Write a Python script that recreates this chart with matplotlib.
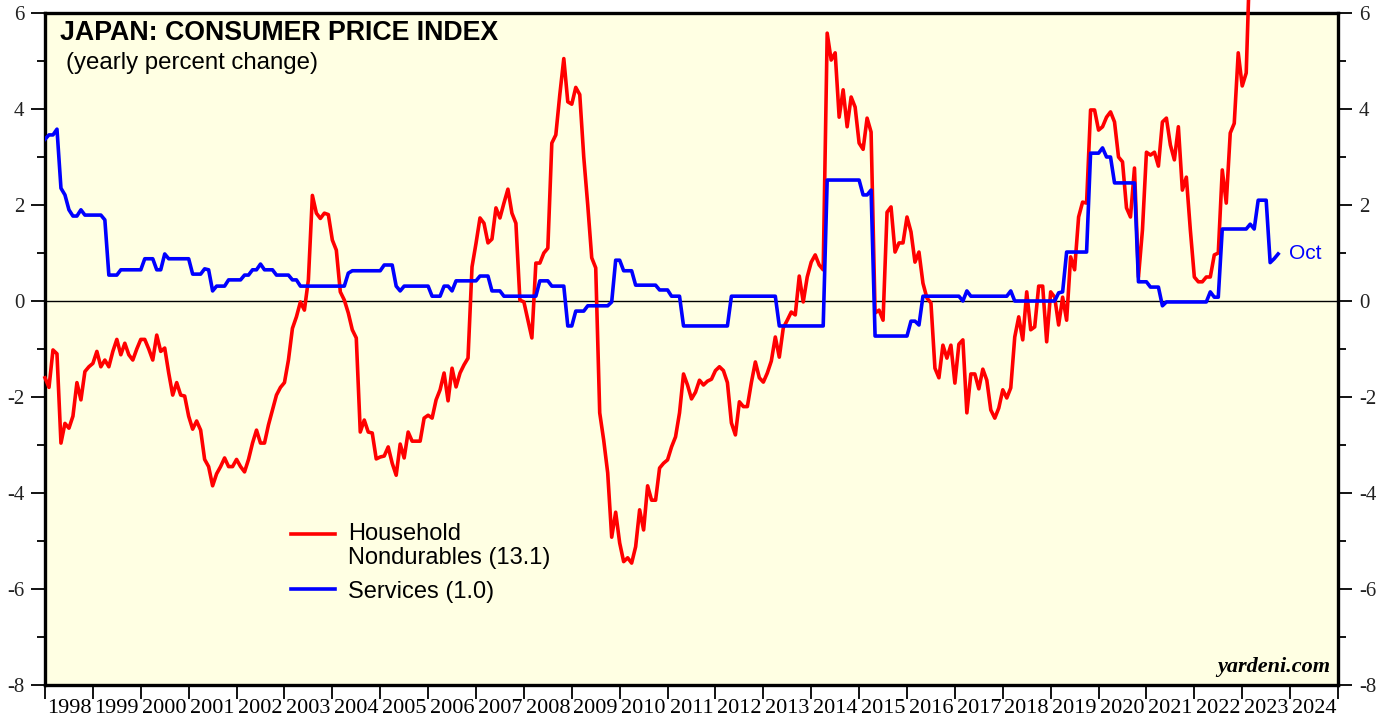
import matplotlib
matplotlib.use("Agg")
import matplotlib.pyplot as plt
import numpy as np
from matplotlib.legend_handler import HandlerLine2D

# monthly values, Jan 1998 .. Oct 2023 (yearly percent change)
household_nondurables = [
    -1.6, -1.8, -1.02, -1.1, -2.96, -2.55, -2.65, -2.4, -1.7, -2.06, -1.47, -1.37,   # 1998
    -1.3, -1.05, -1.37, -1.23, -1.37, -1.05, -0.8, -1.12, -0.88, -1.12, -1.23, -1.0,  # 1999
    -0.8, -0.8, -1.0, -1.23, -0.71, -1.05, -0.98, -1.5, -1.96, -1.7, -1.96, -1.98,    # 2000
    -2.4, -2.67, -2.5, -2.69, -3.3, -3.45, -3.85, -3.6, -3.45, -3.27, -3.45, -3.45,   # 2001
    -3.3, -3.45, -3.56, -3.3, -2.96, -2.69, -2.96, -2.96, -2.58, -2.27, -1.96, -1.8,  # 2002
    -1.7, -1.23, -0.57, -0.33, -0.02, -0.19, 0.44, 2.2, 1.83, 1.72, 1.83, 1.8,        # 2003
    1.27, 1.06, 0.19, 0.02, -0.25, -0.6, -0.77, -2.73, -2.48, -2.73, -2.75, -3.29,    # 2004
    -3.25, -3.23, -3.04, -3.38, -3.63, -2.98, -3.27, -2.73, -2.92, -2.92, -2.92, -2.44,  # 2005
    -2.38, -2.44, -2.06, -1.85, -1.5, -2.08, -1.4, -1.79, -1.5, -1.33, -1.19, 0.71,   # 2006
    1.2, 1.73, 1.62, 1.21, 1.29, 1.94, 1.73, 2.04, 2.33, 1.83, 1.62, 0.02,            # 2007
    -0.02, -0.4, -0.77, 0.79, 0.79, 1.0, 1.1, 3.29, 3.46, 4.3, 5.05, 4.15,            # 2008
    4.1, 4.45, 4.3, 3.0, 2.0, 0.9, 0.69, -2.33, -2.9, -3.58, -4.92, -4.4,             # 2009
    -5.04, -5.43, -5.35, -5.46, -5.12, -4.35, -4.77, -3.85, -4.15, -4.15, -3.48, -3.38,  # 2010
    -3.31, -3.04, -2.83, -2.33, -1.52, -1.75, -2.04, -1.9, -1.65, -1.75, -1.67, -1.63,   # 2011
    -1.45, -1.37, -1.45, -1.7, -2.54, -2.79, -2.1, -2.2, -2.2, -1.7, -1.27, -1.6,     # 2012
    -1.69, -1.5, -1.25, -0.75, -1.17, -0.56, -0.4, -0.23, -0.29, 0.52, -0.02, 0.5,    # 2013
    0.81, 0.96, 0.75, 0.65, 5.58, 5.02, 5.17, 3.83, 4.4, 3.63, 4.25, 4.04,            # 2014
    3.29, 3.16, 3.81, 3.52, -0.25, -0.19, -0.4, 1.85, 1.96, 1.02, 1.21, 1.21,         # 2015
    1.75, 1.44, 0.81, 1.02, 0.37, 0.06, -0.04, -1.4, -1.6, -0.92, -1.19, -0.92,       # 2016
    -1.71, -0.9, -0.81, -2.33, -1.52, -1.52, -1.83, -1.42, -1.65, -2.27, -2.44, -2.23,   # 2017
    -1.85, -2.02, -1.81, -0.75, -0.33, -0.81, 0.19, -0.6, -0.54, 0.31, 0.31, -0.85,   # 2018
    0.19, 0.08, -0.5, 0.08, -0.4, 0.92, 0.65, 1.75, 2.06, 2.04, 3.98, 3.98,           # 2019
    3.56, 3.63, 3.83, 3.94, 3.73, 3.0, 2.9, 1.94, 1.75, 2.77, 0.5, 1.48,              # 2020
    3.1, 3.04, 3.1, 2.81, 3.73, 3.81, 3.25, 2.94, 3.63, 2.31, 2.58, 1.48,             # 2021
    0.5, 0.4, 0.4, 0.5, 0.5, 0.96, 1.0, 2.73, 2.04, 3.5, 3.7, 5.17,                   # 2022
    4.48, 4.75, 7.4, 8.6, 9.9, 11.0, 12.0, 12.9, 13.4, 13.1,                          # 2023
]

services = [
    3.37, 3.46, 3.46, 3.58, 2.35, 2.21, 1.9, 1.77, 1.77, 1.9, 1.79, 1.79,             # 1998
    1.79, 1.79, 1.79, 1.69, 0.54, 0.54, 0.54, 0.65, 0.65, 0.65, 0.65, 0.65,           # 1999
    0.65, 0.88, 0.88, 0.88, 0.65, 0.65, 0.98, 0.88, 0.88, 0.88, 0.88, 0.88,           # 2000
    0.88, 0.56, 0.56, 0.56, 0.67, 0.65, 0.21, 0.31, 0.31, 0.31, 0.44, 0.44,           # 2001
    0.44, 0.44, 0.54, 0.54, 0.65, 0.65, 0.77, 0.65, 0.65, 0.65, 0.54, 0.54,           # 2002
    0.54, 0.54, 0.44, 0.44, 0.31, 0.31, 0.31, 0.31, 0.31, 0.31, 0.31, 0.31,           # 2003
    0.31, 0.31, 0.31, 0.31, 0.58, 0.63, 0.63, 0.63, 0.63, 0.63, 0.63, 0.63,           # 2004
    0.63, 0.75, 0.75, 0.75, 0.31, 0.21, 0.31, 0.31, 0.31, 0.31, 0.31, 0.31,           # 2005
    0.31, 0.10, 0.10, 0.10, 0.31, 0.31, 0.21, 0.42, 0.42, 0.42, 0.42, 0.42,           # 2006
    0.42, 0.52, 0.52, 0.52, 0.21, 0.21, 0.21, 0.10, 0.10, 0.10, 0.10, 0.10,           # 2007
    0.10, 0.10, 0.10, 0.10, 0.42, 0.42, 0.42, 0.31, 0.31, 0.31, 0.31, -0.52,          # 2008
    -0.52, -0.21, -0.21, -0.21, -0.1, -0.1, -0.1, -0.1, -0.1, -0.1, -0.02, 0.85,      # 2009
    0.85, 0.63, 0.63, 0.63, 0.33, 0.33, 0.33, 0.33, 0.33, 0.33, 0.23, 0.23,           # 2010
    0.23, 0.10, 0.10, 0.10, -0.52, -0.52, -0.52, -0.52, -0.52, -0.52, -0.52, -0.52,   # 2011
    -0.52, -0.52, -0.52, -0.52, 0.10, 0.10, 0.10, 0.10, 0.10, 0.10, 0.10, 0.10,       # 2012
    0.10, 0.10, 0.10, 0.10, -0.52, -0.52, -0.52, -0.52, -0.52, -0.52, -0.52, -0.52,   # 2013
    -0.52, -0.52, -0.52, -0.52, 2.52, 2.52, 2.52, 2.52, 2.52, 2.52, 2.52, 2.52,       # 2014
    2.52, 2.21, 2.21, 2.31, -0.73, -0.73, -0.73, -0.73, -0.73, -0.73, -0.73, -0.73,   # 2015
    -0.73, -0.42, -0.42, -0.5, 0.1, 0.1, 0.1, 0.1, 0.1, 0.1, 0.1, 0.1,                # 2016
    0.1, 0.1, 0.0, 0.21, 0.1, 0.1, 0.1, 0.1, 0.1, 0.1, 0.1, 0.1,                      # 2017
    0.1, 0.1, 0.21, 0.0, 0.0, 0.0, 0.0, 0.0, 0.0, 0.0, 0.0, 0.0,                      # 2018
    0.0, 0.0, 0.17, 0.19, 1.02, 1.02, 1.02, 1.02, 1.02, 1.02, 3.08, 3.08,             # 2019
    3.08, 3.19, 3.0, 3.0, 2.46, 2.46, 2.46, 2.46, 2.46, 2.46, 0.4, 0.4,               # 2020
    0.4, 0.29, 0.29, 0.29, -0.1, -0.02, -0.02, -0.02, -0.02, -0.02, -0.02, -0.02,     # 2021
    -0.02, -0.02, -0.02, -0.02, 0.19, 0.08, 0.08, 1.5, 1.5, 1.5, 1.5, 1.5,            # 2022
    1.5, 1.5, 1.6, 1.5, 2.1, 2.1, 2.1, 0.8, 0.88, 0.98,                               # 2023
]

years = list(range(1998, 2025))
labels = ["Household\nNondurables (13.1)", "Services (1.0)"]

t = 1998 + np.arange(len(services)) / 12.0

sans = "Liberation Sans"
serif = "Liberation Serif"


class FirstLineHandler(HandlerLine2D):
    """Legend key placed level with the first line of a two-line label."""

    def __init__(self, shift, **kw):
        super().__init__(**kw)
        self.shift = shift

    def create_artists(self, legend, orig_handle, xdescent, ydescent, width,
                       height, fontsize, trans):
        arts = super().create_artists(legend, orig_handle, xdescent, ydescent,
                                      width, height, fontsize, trans)
        for a in arts:
            a.set_ydata(np.asarray(a.get_ydata()) + self.shift * fontsize)
        return arts


fig = plt.figure(figsize=(13.95, 7.17), dpi=100)
ax = fig.add_axes([45 / 1395, 32 / 717, 1293 / 1395, 672 / 717])
ax.set_facecolor("#ffffe3")

ax.axhline(0, color="black", linewidth=1.0, zorder=1)
red, = ax.plot(t, household_nondurables, color="#ff0000", linewidth=2.6,
               clip_on=False, zorder=3, label=labels[0])
blue, = ax.plot(t, services, color="#0000ff", linewidth=2.6, zorder=4, label=labels[1])

ax.set_xlim(1998, 2025)
ax.set_ylim(-8, 6)

# x axis: ticks at year boundaries, labels centred in each year
ax.set_xticks(range(1998, 2026))
ax.set_xticklabels([])
ax.set_xticks([y + 0.5 for y in years], minor=True)
ax.set_xticklabels([str(y) for y in years], minor=True, family=serif, fontsize=16)
ax.tick_params(axis="x", which="major", direction="out", length=10, width=1.3)
ax.tick_params(axis="x", which="minor", length=0, pad=10)

# y axis: both sides
ax.set_yticks(range(-8, 7, 2))
ax.set_yticks(range(-7, 6, 2), minor=True)
ax.set_yticklabels([str(v) for v in range(-8, 7, 2)], family=serif, fontsize=15)
ax.tick_params(axis="y", which="both", direction="out", left=True, right=True,
               labelleft=True, labelright=True, width=1.3)
ax.tick_params(axis="y", which="major", length=10, pad=5)
ax.tick_params(axis="y", which="minor", length=5.5)
for lab in ax.get_yticklabels(which="major"):
    lab.set_color("#222222")

for s in ax.spines.values():
    s.set_linewidth(2.4)

ax.text(0.0116, 0.970, "JAPAN: CONSUMER PRICE INDEX", transform=ax.transAxes,
        family=sans, fontweight="bold", fontsize=19.3, va="center", ha="left")
ax.text(0.0162, 0.926, "(yearly percent change)", transform=ax.transAxes,
        family=sans, fontsize=17.3, va="center", ha="left")

ax.annotate("Oct", xy=(t[-1], services[-1]), xytext=(8, 0), textcoords="offset points",
            color="#0000ff", family=sans, fontsize=15, va="center", ha="left")

ax.text(0.9938, 0.012, "yardeni.com", transform=ax.transAxes, family=serif,
        fontweight="bold", style="italic", fontsize=16, ha="right", va="bottom")

leg = ax.legend(handles=[red, blue], loc="upper left", bbox_to_anchor=(0.174, 0.272),
                frameon=False, prop={"family": sans, "size": 17},
                handlelength=1.85, handletextpad=0.55, labelspacing=0.5,
                handler_map={red: FirstLineHandler(0.52)})
for txt in leg.get_texts():
    txt.set_linespacing(1.08)

fig.savefig("out.png", dpi=100)
